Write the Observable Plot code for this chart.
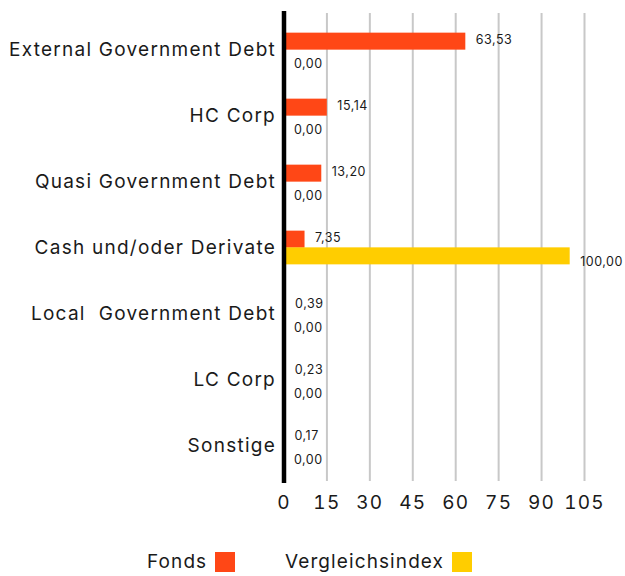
<!DOCTYPE html>
<html>
<head>
<meta charset="utf-8">
<script src="https://cdn.jsdelivr.net/npm/d3@7"></script>
<script src="https://cdn.jsdelivr.net/npm/@observablehq/plot@0.6"></script>
<style>
  body { margin: 0; background: #fff; font-family: Inter, sans-serif; }
  svg text { white-space: pre; letter-spacing: 1.25px; }
  svg g[font-size="12.5"] text { letter-spacing: 0.5px; }
  #legend { position: relative; height: 46px; font-family: Inter, sans-serif; font-size: 19px; color: #1a1a1a; letter-spacing: 1.1px; }
  .lbl { position: absolute; top: 22px; line-height: 20px; }
  .sw { position: absolute; top: 22px; width: 20px; height: 20px; }
</style>
</head>
<body>
<div id="chart"></div>
<div id="legend">
  <span class="lbl" style="left:147px">Fonds</span><span class="sw" style="left:215px;background:#FF4716"></span>
  <span class="lbl" style="left:285px">Vergleichsindex</span><span class="sw" style="left:452px;background:#FFCD00"></span>
</div>
<script>
const categories = ["External Government Debt", "HC Corp", "Quasi Government Debt", "Cash und/oder Derivate", "Local  Government Debt", "LC Corp", "Sonstige"];
const fonds = [63.53, 15.14, 13.20, 7.35, 0.39, 0.23, 0.17];
const vergleichsindex = [0.00, 0.00, 0.00, 100.00, 0.00, 0.00, 0.00];
const xTicks = [0, 15, 30, 45, 60, 75, 90, 105];
const seriesNames = ["Fonds", "Vergleichsindex"];
const colors = ["#FF4716", "#FFCD00"];

const fmt = v => v.toFixed(2).replace(".", ",");
const dataF = categories.map((c, i) => ({category: c, value: fonds[i]}));
const dataV = categories.map((c, i) => ({category: c, value: vergleichsindex[i]}));
const half = 8.35;

const chart = Plot.plot({
  width: 625,
  height: 530,
  marginLeft: 283.5,
  marginRight: 41,
  marginTop: 13,
  marginBottom: 49,
  style: {fontFamily: "Inter, sans-serif", fontSize: "19px", color: "#1a1a1a", background: "#fff"},
  x: {domain: [0, 105], ticks: xTicks, label: null},
  y: {domain: categories, paddingInner: 0.75, paddingOuter: 0.375, label: null},
  marks: [
    Plot.ruleX(xTicks.slice(1), {stroke: "#c8c8c8", strokeWidth: 2}),
    Plot.barX(dataF, {x: "value", y: "category", fill: colors[0], dy: -half}),
    Plot.barX(dataV, {x: "value", y: "category", fill: colors[1], dy: half}),
    Plot.text(dataF, {x: "value", y: "category", text: d => fmt(d.value), dx: 10, dy: -10, textAnchor: "start", fontSize: 12.5, fill: "#1a1a1a"}),
    Plot.text(dataV, {x: "value", y: "category", text: d => fmt(d.value), dx: 10, dy: 13.5, textAnchor: "start", fontSize: 12.5, fill: "#1a1a1a"}),
    Plot.ruleX([0], {stroke: "#000", strokeWidth: 4.5, insetTop: -2, insetBottom: -2}),
    Plot.axisX({ticks: xTicks, tickSize: 0, tickPadding: 14, fontSize: 19, label: null}),
    Plot.axisY({tickSize: 0, tickPadding: 8, fontSize: 19, label: null})
  ]
});
document.getElementById("chart").appendChild(chart);
</script>
</body>
</html>
